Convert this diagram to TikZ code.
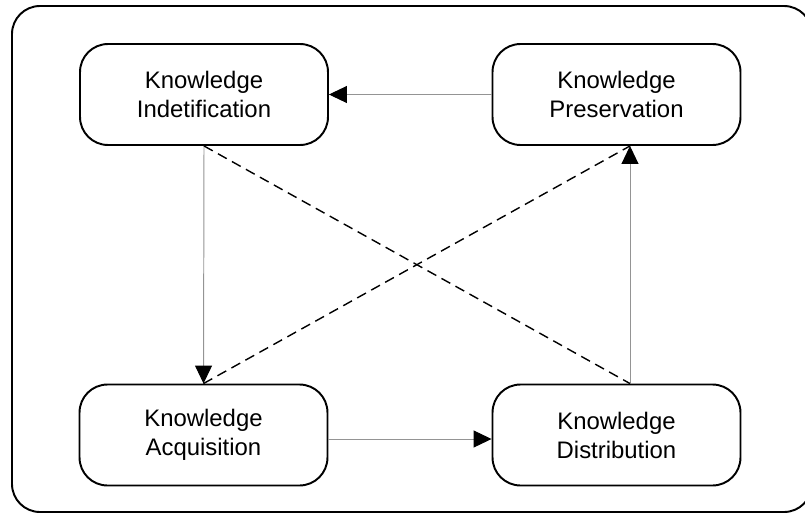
\documentclass[tikz,border=0pt]{standalone}
\usepackage{fontspec}
\setmainfont{Liberation Sans}
\usetikzlibrary{arrows.meta}

\begin{document}
\begin{tikzpicture}[x=0.02cm, y=-0.02cm,
    every node/.style={font=\fontsize{13.6}{16.5}\selectfont},
    phase/.style={draw, line width=1.1pt, rounded corners=0.56cm,
      minimum width=4.96cm, minimum height=2.02cm, align=center},
    flow/.style={draw=black!42, line width=0.55pt,
      -{Triangle[length=0.36cm, width=0.34cm, fill=black, color=black]}},
    link/.style={dash pattern=on 0.2cm off 0.12cm, line width=0.8pt}]
  \useasboundingbox (0,0) rectangle (805,514);

  % outer frame
  \draw[line width=1.1pt, rounded corners=0.56cm] (12,6) rectangle (812,512);

  % phases
  \node[phase] (ident) at (204,94.5) {Knowledge\\Indetification};
  \node[phase] (pres) at (616.5,94.5) {Knowledge\\Preservation};
  \node[phase] (acq) at (203.5,435) {Knowledge\\Acquisition};
  \node[phase] (dist) at (616.5,435) {Knowledge\\Distribution};

  % off-centre ends on the right column
  \coordinate (dtop) at ([xshift=0.27cm]dist.north);
  \coordinate (pbot) at ([xshift=0.27cm]pres.south);

  % cycle
  \draw[flow] (pres.west) -- (ident.east);
  \draw[flow] (ident.south) -- (acq.north);
  \draw[flow] ([yshift=-0.08cm]acq.east) -- ([yshift=-0.08cm]dist.west);
  \draw[flow] (dtop) -- (pbot);

  % cross links
  \draw[link] (ident.south) -- (dtop);
  \draw[link] (acq.north) -- (pbot);
\end{tikzpicture}
\end{document}
